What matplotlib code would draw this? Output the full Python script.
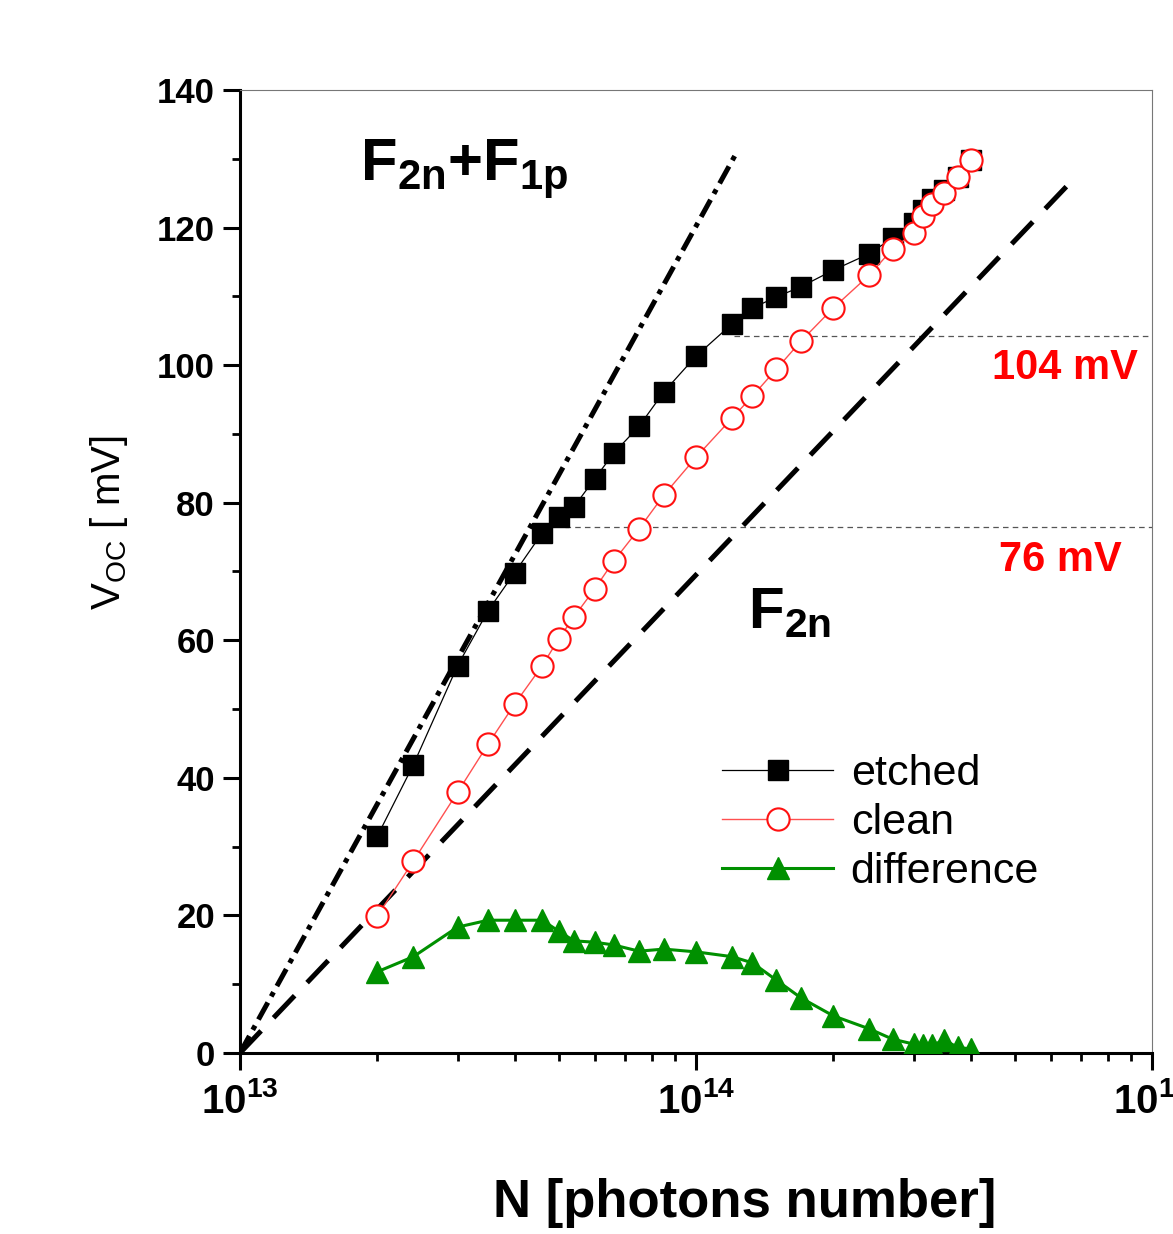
import math
import matplotlib
matplotlib.use("Agg")
import matplotlib.pyplot as plt
from matplotlib.ticker import FuncFormatter, LogLocator, MultipleLocator, NullFormatter

plt.rcParams['font.family'] = ['Liberation Sans', 'DejaVu Sans']
plt.rcParams['mathtext.fontset'] = 'custom'
plt.rcParams['mathtext.rm'] = 'Liberation Sans'
plt.rcParams['mathtext.bf'] = 'Liberation Sans:bold'
plt.rcParams['mathtext.it'] = 'Liberation Sans:italic'
plt.rcParams['lines.scale_dashes'] = False

# ---- data ----
photons = [2.0e13, 2.4e13, 3.0e13, 3.5e13, 4.0e13, 4.6e13, 5.0e13, 5.4e13, 6.0e13,
           6.6e13, 7.5e13, 8.5e13, 1.0e14, 1.2e14, 1.33e14, 1.5e14, 1.7e14, 2.0e14,
           2.4e14, 2.7e14, 3.0e14, 3.15e14, 3.3e14, 3.5e14, 3.75e14, 4.0e14]
etched = [31.5, 41.9, 56.3, 64.3, 69.8, 75.6, 77.9, 79.4, 83.5, 87.2, 91.1, 96.1,
          101.3, 106.0, 108.3, 109.9, 111.4, 113.8, 116.2, 118.5, 120.6, 122.5,
          124.1, 125.5, 127.3, 129.8]
clean = [19.9, 27.9, 37.9, 44.9, 50.7, 56.3, 60.2, 63.4, 67.5, 71.5, 76.2, 81.1,
         86.6, 92.3, 95.5, 99.4, 103.5, 108.3, 113.1, 116.9, 119.2, 121.7, 123.4,
         125.0, 127.3, 129.8]
difference = [11.8, 14.0, 18.3, 19.3, 19.3, 19.3, 17.7, 16.3, 16.1, 15.7, 14.8, 15.1,
              14.7, 14.0, 13.1, 10.6, 8.0, 5.4, 3.5, 2.0, 1.3, 1.1, 1.1, 1.9, 0.8, 0.6]

# reference lines (endpoints)
f2n_f1p_x = [1e13, 1.23e14]
f2n_f1p_y = [0, 131]
f2n_x = [1e13, 6.5e14]
f2n_y = [0, 126]

# guide levels
level_104_x = [1.21e14, 1e15]
level_104 = [104.2, 104.2]
level_76_x = [5.16e13, 1e15]
level_76 = [76.5, 76.5]

legend_labels = ['etched', 'clean', 'difference']

fig = plt.figure(figsize=(11.73, 12.34), dpi=100)
ax = fig.add_axes([0.2046, 0.1467, 0.9821 - 0.2046, 0.9271 - 0.1467])

ax.set_xscale('log')
ax.set_xlim(1e13, 1e15)
ax.set_ylim(0, 140)

# guides
ax.plot(level_104_x, level_104, color='#555555', lw=0.9, dashes=(4, 3), zorder=1)
ax.plot(level_76_x, level_76, color='#555555', lw=0.9, dashes=(4, 3), zorder=1)

# model lines
ax.plot(f2n_f1p_x, f2n_f1p_y, color='black', lw=3.6, dashes=(14, 5, 3.5, 5), zorder=2,
        dash_capstyle='butt')
ax.plot(f2n_x, f2n_y, color='black', lw=3.6, dashes=(22, 13), zorder=2,
        dash_capstyle='butt')

# data
l1, = ax.plot(photons, etched, color='black', lw=0.9, marker='s', ms=14,
              mfc='black', mec='black', zorder=4, label=legend_labels[0])
l2, = ax.plot(photons, clean, color='#ff5050', lw=1.0, marker='o', ms=16,
              mfc='white', mec='#ff1010', mew=1.5, zorder=5, label=legend_labels[1])
l3, = ax.plot(photons, difference, color='#009000', lw=2.2, marker='^', ms=16,
              mfc='#009000', mec='#009000', zorder=4, label=legend_labels[2])

# annotations
ax.text(1.83e13, 126.8, r'$\mathbf{F_{2n}{+}F_{1p}}$', fontsize=43, va='baseline', ha='left')
ax.text(1.30e14, 61.8, r'$\mathbf{F_{2n}}$', fontsize=42, va='baseline', ha='left')
ax.text(6.45e14, 99.6, '104 mV', color='red', fontsize=30, fontweight='bold',
        ha='center', va='center')
ax.text(6.3e14, 71.7, '76 mV', color='red', fontsize=30, fontweight='bold',
        ha='center', va='center')

# spines
for s in ['left', 'bottom']:
    ax.spines[s].set_linewidth(2.2)
    ax.spines[s].set_color('black')
for s in ['top', 'right']:
    ax.spines[s].set_linewidth(0.8)
    ax.spines[s].set_color('#777777')

ax.yaxis.set_major_locator(MultipleLocator(20))
ax.yaxis.set_minor_locator(MultipleLocator(10))
ax.xaxis.set_major_locator(LogLocator(base=10, numticks=10))
ax.xaxis.set_minor_locator(LogLocator(base=10, subs=[2, 3, 4, 5, 6, 7, 8, 9], numticks=20))
ax.xaxis.set_minor_formatter(NullFormatter())
ax.xaxis.set_major_formatter(FuncFormatter(
    lambda v, p: r'$\mathbf{10^{%d}}$' % round(math.log10(v))))

ax.tick_params(axis='both', which='major', direction='out', length=12, width=2.2,
               labelsize=25, top=False, right=False)
ax.tick_params(axis='both', which='minor', direction='out', length=6, width=2.0,
               top=False, right=False)
ax.tick_params(axis='x', which='major', pad=9, labelsize=29)
ax.tick_params(axis='y', which='major', pad=6)
for lab in ax.get_yticklabels():
    lab.set_fontweight('bold')

ax.set_xlabel('N [photons number]', fontsize=38, fontweight='bold')
ax.xaxis.set_label_coords(0.553, -0.13)
ax.set_ylabel(r'$\mathrm{V_{OC}}$ [ mV]', fontsize=29)
ax.yaxis.set_label_coords(-0.121, 0.551)

leg = ax.legend(handles=[l1, l2, l3], loc='upper left', bbox_to_anchor=(0.528, 0.31),
                frameon=False, fontsize=31, handlelength=2.6, handletextpad=0.4,
                labelspacing=0.2, borderpad=0.0, borderaxespad=0.0)

fig.savefig('out.png', dpi=100)
